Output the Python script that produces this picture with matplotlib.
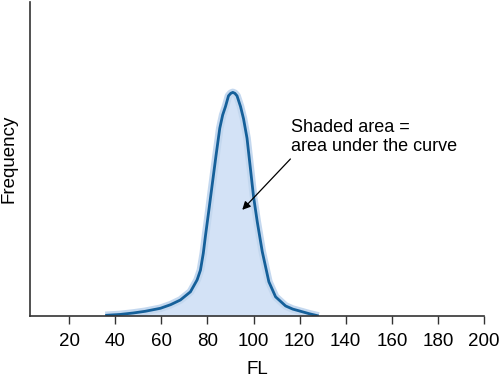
import matplotlib
matplotlib.use("Agg")
import matplotlib.pyplot as plt

fl = [35.65, 42.2, 47.83, 53.0, 59.57, 64.0, 68.26, 72.61, 75.52, 76.96, 78.2, 79.13, 80.6, 82.04,
      83.7, 85.35, 86.6, 87.83, 89.13, 90.1, 91.0, 91.9, 92.83, 94.35, 95.65, 97.17, 98.48,
      100.0, 101.61, 103.78, 106.65, 109.57, 113.91, 117.0, 120.43, 124.3, 128.26]
freq = [0.002, 0.005, 0.0096, 0.015, 0.0245, 0.036, 0.051, 0.077, 0.115, 0.146, 0.20, 0.255, 0.336,
        0.417, 0.51, 0.598, 0.64, 0.667, 0.701, 0.709, 0.712, 0.709, 0.701, 0.667, 0.628, 0.566,
        0.48, 0.38, 0.30, 0.205, 0.109, 0.061, 0.032, 0.022, 0.015, 0.007, 0.0]
xticks = [20, 40, 60, 80, 100, 120, 140, 160, 180, 200]

plt.rcParams['font.family'] = ['Liberation Sans', 'DejaVu Sans']
fig = plt.figure(figsize=(5, 3.77), dpi=100)
ax = fig.add_axes([0.06, 0.1618, 0.908, 0.833])

ax.fill_between(fl, freq, 0, color='#d3e2f6', lw=0)
ax.plot(fl, freq, color='#c4d8ef', lw=5.5, solid_capstyle='butt', solid_joinstyle='round')
ax.plot(fl, freq, color='#15609a', lw=2.0, solid_capstyle='butt', solid_joinstyle='round')

ax.set_xlim(3, 200)
ax.set_ylim(0, 1)
ax.set_xticks(xticks)
ax.set_xticklabels([str(t) for t in xticks], fontsize=13.5)
ax.set_yticks([])
ax.tick_params(axis='x', direction='out', length=6, width=1, color='#333333', pad=6)
for s in ['top', 'right']:
    ax.spines[s].set_visible(False)
for s in ['left', 'bottom']:
    ax.spines[s].set_color('#333333')
    ax.spines[s].set_linewidth(1.2)

ax.set_xlabel('FL', fontsize=13.5, labelpad=8)
ax.set_ylabel('Frequency', fontsize=13.5, labelpad=9)

ax.text(116.1, 0.628, 'Shaded area =\narea under the curve', fontsize=13, ha='left', va='top',
        linespacing=1.15)
ax.annotate('', xy=(95.1, 0.338), xytext=(116.0, 0.50),
            arrowprops=dict(arrowstyle='-|>', color='black', lw=0.9, mutation_scale=12,
                            shrinkA=0, shrinkB=0))

fig.savefig('out.png', dpi=100)
